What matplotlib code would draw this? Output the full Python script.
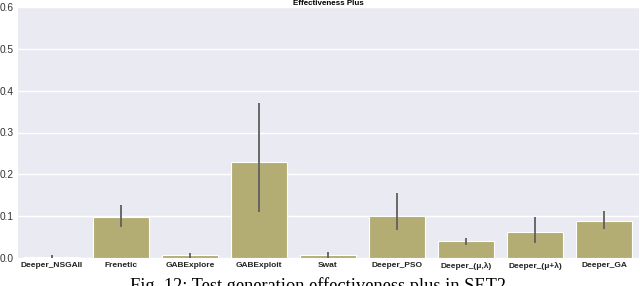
import numpy as np
import matplotlib
matplotlib.use("Agg")
import matplotlib.pyplot as plt

# data
methods = ['Deeper_NSGAII', 'Frenetic', 'GABExplore', 'GABExploit', 'Swat',
           'Deeper_PSO', 'Deeper_(μ,λ)', 'Deeper_(μ+λ)', 'Deeper_GA']
means = [0.003, 0.099, 0.006, 0.230, 0.008, 0.100, 0.040, 0.063, 0.089]
ci_low = [0.000, 0.074, 0.000, 0.110, 0.001, 0.066, 0.030, 0.035, 0.069]
ci_high = [0.007, 0.127, 0.013, 0.371, 0.015, 0.155, 0.049, 0.098, 0.112]
yticks = [0.0, 0.1, 0.2, 0.3, 0.4, 0.5, 0.6]

fig = plt.figure(figsize=(6.4, 2.86), dpi=100)
ax = fig.add_axes([17.5 / 640, 1 - 258 / 286, 621 / 640, 251 / 286])
ax.set_facecolor('#eaeaf2')
for s in ax.spines.values():
    s.set_visible(False)

x = np.arange(len(methods))
ax.bar(x, means, width=0.8, color='#b3ad74', edgecolor='white', linewidth=0.8, zorder=2)
ax.vlines(x, ci_low, ci_high, color='#5f5f5f', linewidth=1.3, zorder=3)

ax.set_xlim(-0.5, len(methods) - 0.5)
ax.set_ylim(0, 0.6)
ax.set_yticks(yticks)
ax.set_yticklabels(['%.1f' % v for v in yticks], fontsize=7.3, color='#333333',
                   family='Liberation Sans')
ax.set_xticks(x)
ax.set_xticklabels(methods, fontsize=6, fontweight='bold', color='#222222',
                   family='Liberation Sans')
ax.tick_params(length=0, pad=3)
ax.yaxis.grid(True, color='white', linewidth=1.0, zorder=0)
ax.set_axisbelow(True)

ax.set_title('Effectiveness Plus', fontsize=5.8, fontweight='bold',
             family='Liberation Sans', pad=1.5)

# caption, cut off at the bottom edge as in the source
fig.text(318 / 640, 1 - 277 / 286, 'Fig. 12: Test generation effectiveness plus in SET2',
         ha='center', va='top', fontsize=13.2, family='Liberation Serif')

fig.savefig('out.png', dpi=100)
